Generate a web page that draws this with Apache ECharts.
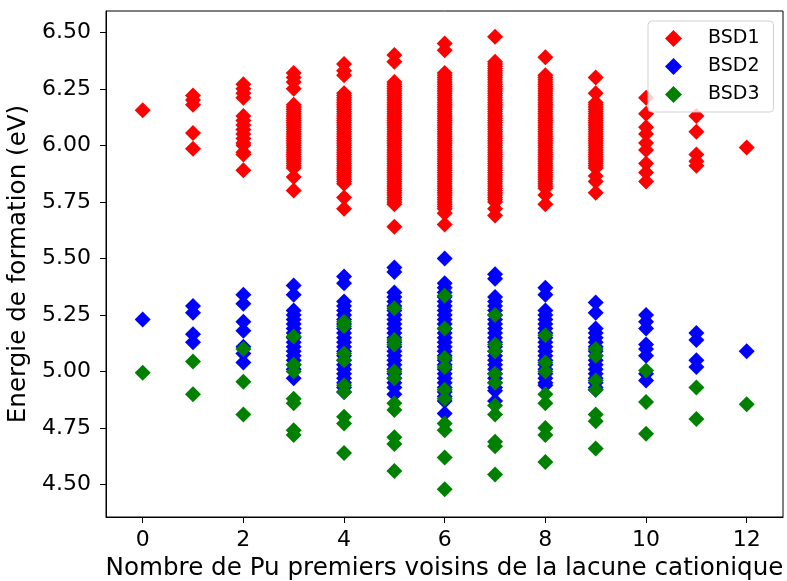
<!DOCTYPE html>
<html><head><meta charset="utf-8">
<script src="https://cdn.jsdelivr.net/npm/echarts@6/dist/echarts.min.js"></script>
<style>html,body{margin:0;padding:0;background:#fff}#c{width:787px;height:581px}</style>
</head><body><div id="c"></div>
<script>
const xTicks = [0, 2, 4, 6, 8, 10, 12];
const yTicks = [4.5, 4.75, 5.0, 5.25, 5.5, 5.75, 6.0, 6.25, 6.5];
const seriesNames = ['BSD1', 'BSD2', 'BSD3'];
const seriesColors = ['#ff0000', '#0000ff', '#008000'];

// values per number of Pu neighbours (index = 0..12)
const bsd1 = [
  [6.155],
  [6.22, 6.20, 6.18, 6.055, 5.985],
  [6.27, 6.25, 6.23, 6.21, 6.13, 6.11, 6.09, 6.07, 6.05, 6.03, 6.01, 6.00, 5.97, 5.96, 5.89],
  [6.32, 6.30, 6.28, 6.25, 6.18, 6.17, 6.16, 6.15, 6.14, 6.13, 6.12, 6.11, 6.10, 6.09, 6.08, 6.07, 6.06, 6.05, 6.04, 6.03, 6.02, 6.01, 6.00, 5.99, 5.98, 5.97, 5.96, 5.95, 5.94, 5.93, 5.92, 5.91, 5.90, 5.86, 5.80],
  [6.36, 6.33, 6.31, 6.23, 6.22, 6.21, 6.20, 6.19, 6.18, 6.17, 6.16, 6.15, 6.14, 6.13, 6.12, 6.11, 6.10, 6.09, 6.08, 6.07, 6.06, 6.05, 6.04, 6.03, 6.02, 6.01, 6.00, 5.99, 5.98, 5.97, 5.96, 5.95, 5.94, 5.93, 5.92, 5.91, 5.90, 5.89, 5.88, 5.87, 5.86, 5.85, 5.84, 5.83, 5.77, 5.72],
  [6.40, 6.37, 6.28, 6.27, 6.26, 6.25, 6.24, 6.23, 6.22, 6.21, 6.20, 6.19, 6.18, 6.17, 6.16, 6.15, 6.14, 6.13, 6.12, 6.11, 6.10, 6.09, 6.08, 6.07, 6.06, 6.05, 6.04, 6.03, 6.02, 6.01, 6.00, 5.99, 5.98, 5.97, 5.96, 5.95, 5.94, 5.93, 5.92, 5.91, 5.90, 5.89, 5.88, 5.87, 5.86, 5.85, 5.84, 5.83, 5.82, 5.81, 5.80, 5.79, 5.78, 5.77, 5.76, 5.75, 5.74, 5.64],
  [6.45, 6.42, 6.32, 6.31, 6.30, 6.29, 6.28, 6.27, 6.26, 6.25, 6.24, 6.23, 6.22, 6.21, 6.20, 6.19, 6.18, 6.17, 6.16, 6.15, 6.14, 6.13, 6.12, 6.11, 6.10, 6.09, 6.08, 6.07, 6.06, 6.05, 6.04, 6.03, 6.02, 6.01, 6.00, 5.99, 5.98, 5.97, 5.96, 5.95, 5.94, 5.93, 5.92, 5.91, 5.90, 5.89, 5.88, 5.87, 5.86, 5.85, 5.84, 5.83, 5.82, 5.81, 5.80, 5.79, 5.78, 5.77, 5.76, 5.75, 5.74, 5.73, 5.72, 5.70, 5.65],
  [6.48, 6.37, 6.36, 6.35, 6.34, 6.33, 6.32, 6.31, 6.30, 6.29, 6.28, 6.27, 6.26, 6.25, 6.24, 6.23, 6.22, 6.21, 6.20, 6.19, 6.18, 6.17, 6.16, 6.15, 6.14, 6.13, 6.12, 6.11, 6.10, 6.09, 6.08, 6.07, 6.06, 6.05, 6.04, 6.03, 6.02, 6.01, 6.00, 5.99, 5.98, 5.97, 5.96, 5.95, 5.94, 5.93, 5.92, 5.91, 5.90, 5.89, 5.88, 5.87, 5.86, 5.85, 5.84, 5.83, 5.82, 5.81, 5.80, 5.79, 5.78, 5.77, 5.76, 5.75, 5.72, 5.69],
  [6.39, 6.31, 6.30, 6.29, 6.28, 6.27, 6.26, 6.25, 6.24, 6.23, 6.22, 6.21, 6.20, 6.19, 6.18, 6.17, 6.16, 6.15, 6.14, 6.13, 6.12, 6.11, 6.10, 6.09, 6.08, 6.07, 6.06, 6.05, 6.04, 6.03, 6.02, 6.01, 6.00, 5.99, 5.98, 5.97, 5.96, 5.95, 5.94, 5.93, 5.92, 5.91, 5.90, 5.89, 5.88, 5.87, 5.86, 5.85, 5.84, 5.83, 5.82, 5.81, 5.78, 5.74],
  [6.30, 6.23, 6.19, 6.18, 6.17, 6.16, 6.15, 6.14, 6.13, 6.12, 6.11, 6.10, 6.09, 6.08, 6.07, 6.06, 6.05, 6.04, 6.03, 6.02, 6.01, 6.00, 5.99, 5.98, 5.97, 5.96, 5.95, 5.94, 5.93, 5.92, 5.91, 5.90, 5.865, 5.84, 5.79],
  [6.21, 6.14, 6.08, 6.05, 6.01, 5.98, 5.92, 5.88, 5.84],
  [6.13, 6.06, 5.96, 5.93, 5.91],
  [5.99]
];
const bsd2 = [
  [5.23],
  [5.29, 5.26, 5.165, 5.13],
  [5.34, 5.30, 5.22, 5.18, 5.11, 5.08, 5.04],
  [5.38, 5.34, 5.27, 5.25, 5.23, 5.21, 5.19, 5.17, 5.15, 5.13, 5.11, 5.09, 5.07, 5.05, 5.03, 5.01, 4.97],
  [5.42, 5.39, 5.31, 5.29, 5.27, 5.25, 5.23, 5.21, 5.19, 5.17, 5.15, 5.13, 5.11, 5.09, 5.07, 5.05, 5.03, 5.01, 4.99, 4.97, 4.95, 4.93, 4.91],
  [5.46, 5.44, 5.35, 5.33, 5.31, 5.29, 5.27, 5.25, 5.23, 5.21, 5.19, 5.17, 5.15, 5.13, 5.11, 5.09, 5.07, 5.05, 5.03, 5.01, 4.99, 4.97, 4.95, 4.93, 4.90],
  [5.50, 5.39, 5.37, 5.35, 5.33, 5.31, 5.29, 5.27, 5.25, 5.23, 5.21, 5.19, 5.17, 5.15, 5.13, 5.11, 5.09, 5.07, 5.05, 5.03, 5.01, 4.99, 4.97, 4.95, 4.93, 4.91, 4.89, 4.87, 4.815],
  [5.43, 5.41, 5.33, 5.31, 5.29, 5.27, 5.25, 5.23, 5.21, 5.19, 5.17, 5.15, 5.13, 5.11, 5.09, 5.07, 5.05, 5.03, 5.01, 4.99, 4.97, 4.95, 4.93, 4.915, 4.87],
  [5.37, 5.34, 5.27, 5.25, 5.23, 5.21, 5.19, 5.17, 5.15, 5.13, 5.11, 5.09, 5.07, 5.05, 5.03, 5.01, 4.99, 4.97, 4.95, 4.94],
  [5.305, 5.26, 5.19, 5.17, 5.15, 5.13, 5.11, 5.09, 5.07, 5.05, 5.03, 5.01, 4.99, 4.97, 4.95, 4.93, 4.92],
  [5.25, 5.22, 5.19, 5.12, 5.10, 5.07, 4.99, 4.96],
  [5.17, 5.14, 5.05, 5.02],
  [5.09]
];
const bsd3 = [
  [4.995],
  [5.045, 4.90],
  [5.10, 4.955, 4.81],
  [5.155, 5.03, 5.00, 4.88, 4.86, 4.74, 4.72],
  [5.22, 5.20, 5.08, 5.05, 4.94, 4.91, 4.80, 4.77, 4.64],
  [5.28, 5.14, 5.12, 5.00, 4.97, 4.86, 4.83, 4.71, 4.68, 4.56],
  [5.335, 5.19, 5.06, 5.02, 4.92, 4.88, 4.77, 4.74, 4.62, 4.48],
  [5.25, 5.12, 5.09, 4.99, 4.95, 4.85, 4.81, 4.69, 4.67, 4.545],
  [5.16, 5.04, 5.00, 4.90, 4.86, 4.75, 4.72, 4.60],
  [5.10, 5.07, 4.96, 4.92, 4.81, 4.78, 4.66],
  [5.005, 4.865, 4.725],
  [4.93, 4.79],
  [4.855]
];

function toPoints(cols) {
  const out = [];
  cols.forEach((vals, x) => vals.forEach(v => out.push([x, v])));
  return out;
}

const font = 'DejaVu Sans';
const chart = echarts.init(document.getElementById('c'), null, {renderer: 'canvas'});
chart.setOption({
  animation: false,
  backgroundColor: '#fff',
  textStyle: {fontFamily: font},
  grid: {left: 106, right: 4, top: 11, bottom: 64, show: true, borderColor: '#000', borderWidth: 1,
    backgroundColor: 'transparent', containLabel: false, outerBoundsMode: 'none'},
  xAxis: {
    type: 'value', min: -0.729, max: 12.721,
    name: 'Nombre de Pu premiers voisins de la lacune cationique',
    nameLocation: 'middle', nameGap: 37,
    nameTextStyle: {fontSize: 24.6, color: '#000', fontFamily: font},
    axisLine: {show: true, onZero: false, lineStyle: {color: '#000', width: 1}},
    axisTick: {show: true, length: 6, lineStyle: {color: '#000', width: 1}, customValues: xTicks},
    axisLabel: {show: true, customValues: xTicks, fontSize: 22, color: '#000', margin: 12, fontFamily: font,
      formatter: v => String(Math.round(v))},
    splitLine: {show: false}
  },
  yAxis: {
    type: 'value', min: 4.357, max: 6.594,
    name: 'Energie de formation (eV)',
    nameLocation: 'middle', nameGap: 70,
    nameTextStyle: {fontSize: 24.6, color: '#000', fontFamily: font},
    axisLine: {show: true, onZero: false, lineStyle: {color: '#000', width: 1}},
    axisTick: {show: true, length: 6, lineStyle: {color: '#000', width: 1}, customValues: yTicks},
    axisLabel: {show: true, customValues: yTicks, fontSize: 22, color: '#000', margin: 15, fontFamily: font,
      formatter: v => v.toFixed(2)},
    splitLine: {show: false}
  },
  legend: {
    orient: 'vertical', left: 648, top: 21,
    padding: [8, 14, 8, 17],
    itemWidth: 17, itemHeight: 17, itemGap: 9,
    backgroundColor: 'rgba(255,255,255,0.8)',
    borderColor: 'rgba(204,204,204,0.9)', borderWidth: 1, borderRadius: 4,
    textStyle: {fontSize: 19, color: '#000', fontFamily: font, padding: [0, 0, 0, 21], lineHeight: 17},
    data: seriesNames
  },
  series: [bsd1, bsd2, bsd3].map((cols, i) => ({
    name: seriesNames[i],
    type: 'scatter',
    symbol: 'diamond',
    symbolSize: 16,
    itemStyle: {color: seriesColors[i], opacity: 1},
    emphasis: {disabled: true},
    data: toPoints(cols)
  }))
});
</script>
</body></html>
